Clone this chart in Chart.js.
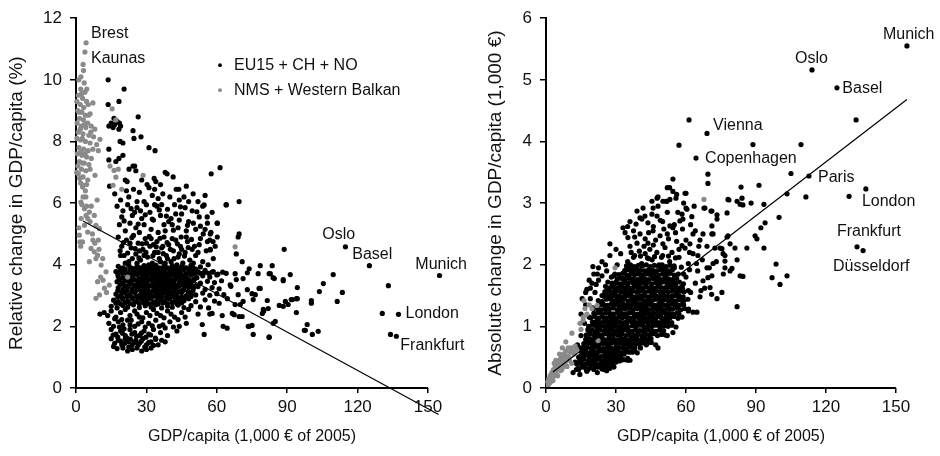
<!DOCTYPE html>
<html>
<head>
<meta charset="utf-8">
<script src="https://cdn.jsdelivr.net/npm/chart.js@4.4.1/dist/chart.umd.min.js"></script>
<style>
  body { margin: 0; background: #fff; }
  #wrap { position: relative; width: 940px; height: 456px; }
  canvas { position: absolute; top: 0; }
</style>
</head>
<body>
<div id="wrap">
  <canvas id="relativeChart" width="470" height="456" style="left:0"></canvas>
  <canvas id="absoluteChart" width="470" height="456" style="left:470px"></canvas>
</div>
<script>
// ---- data ----
const xTickValues = [0, 30, 60, 90, 120, 150];
const relYTickValues = [0, 2, 4, 6, 8, 10, 12];
const absYTickValues = [0, 1, 2, 3, 4, 5, 6];
const legendLabels = ['EU15 + CH + NO', 'NMS + Western Balkan'];
const xTitle = 'GDP/capita (1,000 € of 2005)';

// left panel: GDP/capita (x) vs relative change in GDP/capita (%)
const relEuPoints = [
  // upper arm
  [13.7,10.0],[20.5,9.7],[13.7,9.2],[18.3,9.3],[16.2,8.75],[15.0,8.6],[16.5,8.55],[17.5,8.65],[18.5,8.6],[19.0,8.5],[15.8,8.45],[26.5,8.8],[14.0,8.5],[18.3,8.4],[24.3,8.35],[18.8,8.0],[24.7,8.1],[27.7,8.15],[20.0,7.95],[31.1,7.8],[33.7,7.7],[14.0,7.75],[18.3,7.45],[20.0,7.55],[14.0,7.4],[17.0,7.35],[22.6,7.1],[24.3,7.2],[25.0,7.2],[21.0,6.75],[21.8,6.7],[38.0,7.0],[41.4,6.85],[38.8,6.95],[33.3,6.8],[34.0,6.7],[30.3,6.6],[31.1,6.5],[42.7,6.45],[43.8,6.45],[57.6,6.95],[61.4,7.15],[55.0,6.25],[49.9,6.3],[14.3,6.55],[16.5,6.3],[19.0,6.1],[46.0,6.2],[37.0,6.3],[27.0,6.35],[35.0,6.15],[29.0,6.05],[47.0,6.55],[24.5,6.45],[40.0,6.2],[52.0,6.05],[22.5,6.2],[32.5,6.25],
  [21.5,6.4],[26.0,6.05],[33.5,6.45],[44.0,6.1],[25.5,7.05],[28.0,6.75],[36.0,6.6],[48.0,6.05],
  // 5-6 band
  [17.5,5.9],[20.0,5.75],[22.0,5.95],[24.0,5.6],[26.0,5.85],[28.0,5.5],[30.0,5.95],[31.5,5.7],[33.0,5.45],[34.5,5.9],[36.0,5.6],[37.5,5.3],[39.0,5.8],[40.5,5.5],[42.0,5.95],[43.5,5.2],[45.0,5.65],[46.5,5.85],[48.0,5.4],[49.5,5.75],[51.0,5.15],[52.5,5.55],[54.0,5.9],[56.0,5.35],[57.5,5.05],[60.2,5.35],[64.0,5.95],[69.5,6.05],[55.9,5.55],[18.5,5.3],[21.0,5.1],[23.0,5.35],[25.5,5.2],[27.0,5.05],[29.0,5.3],[32.0,5.15],[35.0,5.05],[38.0,5.1],[41.0,5.3],[44.0,5.45],[47.0,5.1],[50.0,5.35],[19.5,5.55],[25.0,5.7],[36.5,5.95],[42.5,5.65],[53.0,5.25],[58.0,5.7],[27.5,5.75],[33.5,5.95],[39.5,5.4],
  [20.5,5.42],[23.5,5.82],[26.5,5.32],[29.5,5.62],[32.5,5.48],[35.5,5.78],[38.5,5.58],[41.5,5.12],[44.5,5.88],[47.5,5.28],[51.5,5.72],[55.0,5.15],
  // 4-5 band
  [18.0,4.9],[19.5,4.6],[20.5,4.3],[21.5,4.8],[22.5,4.1],[23.5,4.55],[24.5,4.95],[25.5,4.35],[26.5,4.7],[27.5,4.15],[28.5,4.5],[29.5,4.85],[30.5,4.25],[31.5,4.6],[32.5,4.05],[33.5,4.4],[34.5,4.75],[35.5,4.2],[36.5,4.55],[37.5,4.9],[38.5,4.3],[39.5,4.65],[40.5,4.1],[41.5,4.45],[42.5,4.8],[43.5,4.25],[44.5,4.6],[45.5,4.05],[46.5,4.4],[47.5,4.75],[48.5,4.15],[49.5,4.5],[51.0,4.3],[52.5,4.65],[54.0,4.1],[55.5,4.45],[57.0,4.8],[58.5,4.2],[54.2,5.0],[57.2,5.0],[60.2,4.9],[69.5,5.0],[69.1,4.9],[58.4,4.75],[56.0,4.75],[57.2,4.5],[59.3,4.6],[68.3,4.35],[70.8,4.1],[88.7,4.5],[56.3,4.0],[21.0,4.05],[23.0,4.7],[26.0,4.05],[29.0,4.3],[32.0,4.85],[35.0,4.4],[38.0,4.05],[41.0,4.85],[44.0,4.35],[47.0,4.9],[50.0,4.05],[53.0,4.85],[24.0,4.2],[31.0,4.0],[37.0,4.6],[43.0,4.0],[19.0,4.3],[27.0,4.45],[33.0,4.65],[39.0,4.2],[45.0,4.5],[30.0,4.7],[36.0,4.1],
  [18.8,4.45],[20.2,4.72],[22.0,4.38],[23.8,4.88],[25.2,4.52],[26.8,4.22],[28.2,4.68],[29.8,4.4],[31.2,4.92],[32.8,4.3],[34.2,4.58],[35.8,4.86],[37.2,4.36],[38.8,4.72],[40.2,4.5],[41.8,4.2],[43.2,4.68],[44.8,4.9],[46.2,4.28],[47.8,4.56],[49.2,4.82],[50.5,4.6],[52.0,4.4],
  // dense core
  [18.0,3.95],[20.0,3.9],[22.5,3.98],[24.0,3.88],[26.0,3.95],[27.5,3.9],[29.0,3.97],[31.0,3.86],[32.5,3.93],[34.0,3.99],[36.0,3.88],[37.5,3.95],[39.0,3.9],[41.0,3.97],[43.0,3.87],[45.0,3.94],[47.0,3.9],[49.0,3.98],[51.0,3.86],[53.0,3.93],
  [18.8,3.87],[21.0,3.86],[23.3,3.89],[25.0,3.86],[27.0,3.88],[28.5,3.87],[30.2,3.89],[32.0,3.85],[33.5,3.88],[35.2,3.9],[37.0,3.86],[38.5,3.89],[40.2,3.85],[42.0,3.88],[44.0,3.86],[46.0,3.9],[48.0,3.86],[50.0,3.89],
  [17.0,3.78],[19.0,3.82],[21.0,3.75],[23.0,3.8],[25.0,3.84],[27.0,3.76],[28.5,3.81],[30.0,3.78],[31.5,3.85],[33.0,3.74],[35.0,3.8],[36.5,3.77],[38.0,3.83],[40.0,3.76],[42.0,3.81],[44.0,3.78],[46.0,3.84],[48.0,3.75],[50.0,3.8],[52.0,3.77],[55.0,3.82],[58.0,3.76],
  [17.8,3.7],[19.8,3.72],[21.8,3.69],[23.8,3.73],[25.8,3.7],[27.8,3.72],[29.3,3.7],[30.8,3.73],[32.3,3.69],[33.8,3.72],[35.8,3.7],[37.3,3.72],[38.8,3.7],[40.8,3.73],[42.8,3.69],[44.8,3.72],[46.8,3.7],[48.8,3.72],[50.8,3.7],[53.0,3.72],
  [18.0,3.62],[20.0,3.58],[22.0,3.66],[24.0,3.6],[26.0,3.68],[28.0,3.57],[29.5,3.63],[31.0,3.69],[32.5,3.58],[34.0,3.64],[35.5,3.6],[37.0,3.67],[38.5,3.56],[40.0,3.62],[41.5,3.68],[43.0,3.59],[45.0,3.65],[47.0,3.6],[49.0,3.66],[51.5,3.58],[54.0,3.64],[57.0,3.6],[60.0,3.67],
  [18.5,3.53],[20.8,3.5],[22.8,3.55],[24.8,3.52],[26.8,3.54],[28.8,3.51],[30.3,3.55],[31.8,3.52],[33.3,3.54],[34.8,3.51],[36.3,3.55],[37.8,3.52],[39.3,3.54],[40.8,3.51],[42.3,3.55],[44.3,3.52],[46.3,3.54],[48.3,3.51],[50.5,3.54],
  [17.5,3.45],[19.5,3.4],[21.5,3.48],[23.5,3.43],[25.5,3.5],[27.0,3.41],[28.5,3.47],[30.0,3.44],[31.5,3.5],[33.0,3.39],[34.5,3.46],[36.0,3.42],[37.5,3.49],[39.0,3.4],[40.5,3.45],[42.0,3.5],[44.0,3.41],[46.0,3.47],[48.0,3.43],[50.0,3.49],[53.0,3.4],[56.0,3.46],[59.0,3.42],[62.0,3.48],
  [18.8,3.35],[20.8,3.32],[22.8,3.36],[24.8,3.33],[26.3,3.37],[28.0,3.33],[29.8,3.36],[31.2,3.32],[32.8,3.36],[34.2,3.33],[35.8,3.37],[37.2,3.33],[38.8,3.36],[40.2,3.32],[41.8,3.36],[43.2,3.33],[45.0,3.37],[47.0,3.33],[49.0,3.36],[51.0,3.32],
  [18.0,3.25],[20.0,3.2],[22.0,3.28],[24.0,3.22],[26.0,3.3],[27.5,3.21],[29.0,3.27],[30.5,3.23],[32.0,3.31],[33.5,3.2],[35.0,3.26],[36.5,3.22],[38.0,3.29],[39.5,3.21],[41.0,3.27],[42.5,3.24],[44.0,3.3],[46.0,3.21],[48.0,3.27],[50.0,3.23],[52.0,3.29],[55.0,3.2],[58.0,3.26],[61.0,3.22],
  [17.8,3.15],[19.8,3.12],[21.8,3.16],[23.8,3.13],[25.8,3.17],[27.8,3.13],[29.8,3.16],[31.2,3.12],[32.8,3.16],[34.2,3.13],[35.8,3.17],[37.2,3.13],[38.8,3.16],[40.2,3.12],[41.8,3.16],[43.8,3.13],[45.8,3.17],[47.8,3.13],[49.8,3.16],
  [17.0,3.05],[19.0,3.0],[21.0,3.08],[23.0,3.02],[25.0,3.1],[27.0,3.01],[28.5,3.07],[30.0,3.03],[31.5,3.1],[33.0,3.0],[34.5,3.06],[36.0,3.02],[37.5,3.09],[39.0,3.01],[41.0,3.07],[43.0,3.04],[45.0,3.1],[47.0,3.0],[49.0,3.06],[51.0,3.02],[54.0,3.08],[57.0,3.01],[60.0,3.06],[63.0,3.03],
  [17.8,2.95],[19.8,2.93],[21.8,2.97],[23.8,2.94],[25.8,2.97],[27.8,2.93],[29.2,2.96],[31.2,2.94],[32.8,2.97],[34.8,2.93],[36.8,2.96],[38.8,2.94],[40.8,2.97],[43.0,2.93],[45.0,2.96],[47.0,2.94],[49.0,2.97],
  [16.0,2.85],[18.0,2.8],[20.0,2.88],[22.0,2.82],[24.0,2.9],[26.0,2.81],[28.0,2.87],[30.0,2.83],[32.0,2.9],[34.0,2.8],[36.0,2.86],[38.0,2.82],[40.0,2.89],[42.0,2.81],[44.0,2.87],[46.0,2.83],[48.0,2.9],[51.0,2.8],[55.0,2.86],[59.0,2.82],
  [17.0,2.75],[19.0,2.73],[21.0,2.77],[23.0,2.74],[25.0,2.78],[27.0,2.73],[29.0,2.76],[31.0,2.74],[33.0,2.77],[35.0,2.73],[37.0,2.76],[39.0,2.74],[41.0,2.77],[43.0,2.73],[45.0,2.76],
  [15.0,2.65],[17.5,2.6],[20.0,2.68],[22.0,2.62],[24.5,2.7],[27.0,2.61],[29.5,2.67],[32.0,2.63],[34.0,2.7],[36.5,2.6],[39.0,2.66],[41.0,2.62],[43.5,2.69],[46.0,2.61],[49.0,2.67],[53.0,2.63],
  [23,3.55],[25,3.72],[27,3.35],[29,3.15],[31,3.52],[33,3.33],[35,3.7],[37,3.15],[39,3.55],[41,3.35],[43,3.72],[45,3.15],[47,3.52],[49,3.35],[30,2.95],[34,3.15],[38,3.35],[42,2.95],[26,2.95],[46,3.35],[28,3.68],[36,3.88],[44,3.55],
  // lower part
  [10.2,2.4],[12.0,2.45],[13.5,2.35],[15.0,2.5],[17.0,2.3],[19.0,2.45],[21.0,2.55],[23.0,2.35],[25.0,2.5],[27.0,2.3],[30.0,2.45],[33.0,2.55],[36.0,2.35],[39.0,2.5],[42.0,2.3],[45.0,2.45],[48.0,2.55],[52.0,2.4],
  [16.5,2.25],[19.5,2.22],[23.5,2.2],[26.0,2.4],[28.5,2.28],[31.5,2.35],[34.5,2.42],[37.5,2.28],[40.5,2.4],[43.5,2.22],[46.5,2.3],
  [14.0,2.1],[16.0,2.0],[18.0,2.15],[20.0,2.05],[22.0,2.2],[25.0,2.0],[28.0,2.15],[31.0,2.1],[34.0,2.2],[37.0,2.05],[40.0,2.15],[44.0,2.0],[47.0,2.1],
  [18.5,1.98],[20.5,1.92],[23.0,2.05],[26.5,2.08],[29.5,1.98],[32.5,2.02],[35.5,2.0],[38.0,1.95],[41.5,1.98],
  [15.0,1.9],[17.0,1.75],[19.0,1.85],[21.0,1.7],[23.0,1.9],[25.0,1.8],[27.0,1.7],[29.0,1.85],[31.0,1.75],[33.0,1.9],[36.0,1.8],[39.0,1.7],[43.0,1.85],
  [15.8,1.72],[17.8,1.65],[19.8,1.78],[21.8,1.62],[23.8,1.75],[25.8,1.68],[27.8,1.78],[29.8,1.65],[31.8,1.72],[33.8,1.62],
  [15.0,1.6],[16.5,1.45],[18.0,1.55],[19.5,1.4],[21.0,1.6],[22.5,1.5],[24.0,1.4],[25.5,1.55],[27.0,1.45],[28.5,1.6],[30.0,1.4],[32.0,1.5],[35.0,1.4],[38.0,1.5],
  [16.0,1.35],[17.5,1.28],[19.0,1.52],[20.8,1.45],[22.5,1.33],[23.2,1.58],[24.8,1.48],[26.5,1.4],[27.8,1.52],[29.3,1.33],[31.0,1.48],[33.0,1.38],[34.0,1.58],[36.5,1.55],
  [20.0,1.3],[22.0,1.2],[24.0,1.25],[26.0,1.3],[28.0,1.2],[30.0,1.25],[32.0,1.3],
  // spread to the right
  [54.6,5.94],[64.0,5.94],[60.2,5.35],[57.2,4.48],[73.8,3.87],[73.0,3.74],[78.5,3.97],[83.6,3.97],[82.8,3.71],[84.0,3.58],[77.6,3.71],[91.3,3.68],[88.3,3.48],[67.8,3.71],[68.3,3.52],[71.2,3.55],[65.7,3.35],[94.3,3.26],[103.7,3.13],[105.4,3.39],[73.0,3.19],[75.0,3.06],[78.0,3.23],[76.4,3.03],[69.1,3.03],[71.2,2.81],[70.0,2.71],[67.8,2.71],[75.5,2.87],[81.5,2.84],[81.9,2.58],[79.4,2.42],[80.0,2.5],[86.6,2.68],[89.2,2.81],[90.4,2.71],[92.2,2.87],[94.3,2.9],[93.9,2.45],[100.3,2.84],[100.3,2.75],[84.9,2.16],[84.0,2.1],[98.5,2.06],[97.7,1.87],[100.7,1.74],[103.2,1.84],[82.3,1.65],[75.5,1.74],[73.8,2.0],[75.0,2.03],[66.6,2.42],[67.4,2.38],[62.7,2.0],[64.4,1.94],[62.3,2.35],[58.0,2.42],[57.0,2.4],[54.6,1.74],[53.8,2.06],
  [54.5,3.74],[56.5,3.72],[58.5,3.78],[60.5,3.7],[62.5,3.76],[64.0,3.72],[66.0,3.3],[64.5,2.9],[61.0,2.75],[56.5,2.6],
  [114.8,4.58],[125.0,3.97],[154.9,3.65],[133.1,3.32],[130.5,2.42],[137.4,2.39],[134.0,1.74],[136.5,1.68],[109.6,3.68],[113.5,3.1],[111.3,2.81],[97.3,1.87],[93.9,2.9],[91.7,2.87],[88.3,2.65],[88.3,3.52],[84.5,3.55],[82.3,3.71],[78.5,3.23],[79.8,2.55],[82.3,1.65],[73.4,2.0],[70.8,2.32],[69.5,2.32]
];
const relNmsPoints = [
  [4.3,11.2],[3.8,10.9],[3.0,10.5],[3.2,10.3],[2.1,10.1],[1.2,10.0],[3.5,9.9],[2.0,9.7],[3.8,9.6],[1.0,9.5],[2.8,9.4],[4.5,9.3],[1.8,9.2],[3.3,9.1],[5.2,9.2],[7.2,9.25],[0.8,9.0],[2.5,8.95],[4.0,8.85],[6.0,8.9],[1.5,8.75],[3.2,8.7],[5.0,8.6],[2.2,8.5],[4.2,8.45],[6.5,8.5],[8.0,8.4],[1.0,8.3],[3.0,8.25],[5.5,8.2],[7.5,8.15],[10.2,8.07],[2.0,8.05],[4.0,8.0],[6.0,7.95],[8.8,7.9],[1.3,7.8],[3.3,7.75],[5.2,7.7],[7.2,7.75],[9.5,7.7],[2.5,7.55],[4.5,7.5],[6.5,7.45],[1.5,7.35],[3.5,7.3],[5.5,7.25],[2.3,7.1],[4.2,7.05],[1.0,6.95],[3.0,6.85],[8.1,6.9],[5.0,6.75],[2.0,6.65],[3.0,6.58],[9.0,6.1],[4.0,6.4],
  [0.5,8.6],[1.8,8.4],[3.6,8.55],[2.7,8.1],[0.6,7.6],[1.9,7.65],[3.9,7.6],[0.8,7.2],[2.8,7.3],[6.0,7.1],[1.6,6.8],[4.5,6.6],[6.3,8.3],[5.3,8.85],[2.4,9.55],[4.6,9.7],[0.4,9.3],[1.4,8.95],[0.4,8.1],[0.3,7.0],
  [15.4,9.06],[17.0,8.7],[18.0,7.1],[16.2,7.06],[17.0,6.84],[28.6,6.9],[15.8,6.58],[14.5,7.2],[19.5,6.45],
  [2.8,6.52],[2.1,6.03],[3.6,5.82],[5.7,5.71],[7.8,5.6],[1.4,4.96],[2.8,4.74],[5.0,5.06],[8.5,5.28],[10.0,5.17],[6.4,4.53],[8.5,4.2],[10.7,3.99],[12.8,3.77],[9.2,3.45],[12.1,3.24],[14.2,3.34],[10.0,3.02],[8.5,2.91],[7.8,4.42],[5.7,4.1],[9.2,4.31],[11.4,4.2],[3.6,5.28],[5.0,5.5],[1.7,4.74],[2.2,5.5],[4.2,6.2],[6.5,5.9],[9.5,4.8],
  [3.0,6.2],[4.5,5.9],[6.0,5.4],[7.0,5.0],[8.0,4.7],[9.8,4.5],[10.5,3.6],[11.5,3.5],[13.0,3.1],[7.2,4.8],[4.3,5.6],[2.5,5.95],[1.2,5.2],[2.0,4.6],
  [22.0,3.6],[67.8,4.58]
];
const relFitLine = [[3, 5.42], [154.5, -0.86]];
const relCityLabels = [
  ['Brest', 6.4, 11.49], ['Kaunas', 6.4, 10.68], ['Oslo', 104.9, 4.99], ['Basel', 117.7, 4.34],
  ['Munich', 144.6, 3.99], ['London', 140.4, 2.41], ['Frankfurt', 138.2, 1.39]
];

// right panel: GDP/capita (x) vs absolute change in GDP/capita (1,000 EUR)
const absEuPoints = [
  // bottom edge of the cloud
  [11.6,0.25],[13.0,0.3],[14.5,0.22],[16.0,0.35],[17.5,0.27],[19.0,0.4],[20.5,0.3],[22.0,0.25],[23.5,0.38],[25.0,0.3],[26.0,0.28],[27.5,0.42],[29.0,0.35],[30.5,0.5],[32.0,0.45],[33.5,0.55],[35.0,0.48],[36.0,0.45],[14.0,0.5],[16.7,0.56],[18.5,0.55],[21.0,0.5],[24.0,0.6],[28.0,0.58],[12.5,0.42],
  [13.8,0.32],[15.5,0.34],[17.2,0.31],[18.9,0.33],[20.6,0.32],[22.3,0.34],[24.0,0.31],[25.7,0.33],[27.4,0.32],[29.1,0.34],
  [13.2,0.39],[14.9,0.4],[16.6,0.38],[18.3,0.4],[20.0,0.39],[21.7,0.38],[23.4,0.4],[25.1,0.39],[26.8,0.38],[28.5,0.4],
  [14.5,0.45],[16.2,0.47],[17.9,0.44],[19.6,0.46],[21.3,0.45],[23.0,0.47],[24.7,0.44],[26.4,0.46],[28.1,0.45],[29.8,0.47],[31.5,0.44],[33.2,0.46],[34.9,0.45],
  [15.0,0.52],[16.7,0.53],[18.4,0.51],[20.1,0.53],[21.8,0.52],[23.5,0.51],[25.2,0.53],[26.9,0.52],[28.6,0.51],[30.3,0.53],[32.0,0.52],
  [15.3,0.58],[17.0,0.6],[18.7,0.57],[20.4,0.59],[22.1,0.58],[23.8,0.6],[25.5,0.57],[27.2,0.59],[28.9,0.58],[30.6,0.6],[32.3,0.57],[34.0,0.59],[35.7,0.58],[37.4,0.6],[39.1,0.57],
  [16.0,0.65],[17.7,0.66],[19.4,0.64],[21.1,0.66],[22.8,0.65],[24.5,0.64],[26.2,0.66],[27.9,0.65],[29.6,0.64],[31.3,0.66],[33.0,0.65],[34.7,0.64],[36.4,0.66],[38.1,0.65],
  [14.0,0.3],[15.5,0.45],[17.0,0.38],[18.0,0.3],[19.5,0.55],[21.0,0.38],[22.5,0.48],[24.0,0.35],[25.5,0.5],[27.0,0.4],[28.5,0.52],[30.0,0.42],[31.0,0.6],[33.0,0.65],[35.0,0.7],[37.0,0.58],[39.0,0.72],[41.0,0.78],[43.0,0.7],[45.0,0.8],[15.0,0.65],[17.5,0.8],[20.0,0.7],[22.0,0.82],[24.5,0.72],[27.0,0.85],[29.5,0.78],[32.0,0.85],[34.0,0.95],[36.5,0.82],
  [16.2,0.72],[17.9,0.74],[19.6,0.71],[21.3,0.73],[23.0,0.72],[24.7,0.74],[26.4,0.71],[28.1,0.73],[29.8,0.72],[31.5,0.74],[33.2,0.71],[34.9,0.73],[36.6,0.72],[38.3,0.74],[40.0,0.71],[41.7,0.73],[43.4,0.72],[45.1,0.74],
  [17.0,0.79],[18.7,0.8],[20.4,0.78],[22.1,0.8],[23.8,0.79],[25.5,0.78],[27.2,0.8],[28.9,0.79],[30.6,0.78],[32.3,0.8],[34.0,0.79],[35.7,0.78],[37.4,0.8],[39.1,0.79],[40.8,0.78],[42.5,0.8],[44.2,0.79],
  [13.5,0.7],[15.0,0.85],[16.5,0.65],[18.0,0.95],[19.5,0.75],[21.0,0.9],[22.5,0.68],[24.0,0.82],[25.5,0.98],[27.0,0.72],[28.5,0.88],[30.0,0.65],[31.5,0.95],[33.0,0.78],[34.5,0.62],[36.0,0.9],[37.5,0.72],[39.0,0.85],[40.5,0.65],[42.0,0.95],[43.5,0.78],[45.0,0.88],[47.0,0.7],[48.0,0.65],[50.0,0.92],[52.0,0.85],[54.4,0.9],[38.0,0.6],[26.0,0.62],
  [17.2,0.86],[18.9,0.88],[20.6,0.85],[22.3,0.87],[24.0,0.86],[25.7,0.88],[27.4,0.85],[29.1,0.87],[30.8,0.86],[32.5,0.88],[34.2,0.85],[35.9,0.87],[37.6,0.86],[39.3,0.88],[41.0,0.85],[42.7,0.87],[44.4,0.86],[46.1,0.88],[47.8,0.85],[49.5,0.87],[51.2,0.86],
  [18.1,0.93],[19.8,0.94],[21.5,0.92],[23.2,0.94],[24.9,0.93],[26.6,0.92],[28.3,0.94],[30.0,0.93],[31.7,0.92],[33.4,0.94],[35.1,0.93],[36.8,0.92],[38.5,0.94],[40.2,0.93],[41.9,0.92],[43.6,0.94],[45.3,0.93],[47.0,0.92],[48.7,0.94],[50.4,0.93],
  // dense core
  [26.5,0.95],[29.0,1.05],[32.0,0.98],[35.0,1.1],[38.0,1.0],[41.0,1.12],[44.0,1.0],[47.0,1.1],[50.5,1.02],
  [18.3,1.0],[20.0,1.02],[21.7,0.99],[23.4,1.01],[25.1,1.0],[26.8,1.02],[28.5,0.99],[30.2,1.01],[31.9,1.0],[33.6,1.02],[35.3,0.99],[37.0,1.01],[38.7,1.0],[40.4,1.02],[42.1,0.99],[43.8,1.01],[45.5,1.0],[47.2,1.02],[48.9,0.99],[50.6,1.01],[52.3,1.0],[54.0,1.02],[55.7,0.99],
  [19.9,1.07],[21.6,1.08],[23.3,1.06],[25.0,1.08],[26.7,1.07],[28.4,1.06],[30.1,1.08],[31.8,1.07],[33.5,1.06],[35.2,1.08],[36.9,1.07],[38.6,1.06],[40.3,1.08],[42.0,1.07],[43.7,1.06],[45.4,1.08],[47.1,1.07],[48.8,1.06],[50.5,1.08],[52.2,1.07],[53.9,1.06],
  [19.2,1.14],[20.9,1.16],[22.6,1.13],[24.3,1.15],[26.0,1.14],[27.7,1.16],[29.4,1.13],[31.1,1.15],[32.8,1.14],[34.5,1.16],[36.2,1.13],[37.9,1.15],[39.6,1.14],[41.3,1.16],[43.0,1.13],[44.7,1.15],[46.4,1.14],[48.1,1.16],[49.8,1.13],[51.5,1.15],[53.2,1.14],[54.9,1.16],[56.6,1.13],[58.3,1.15],
  [20.5,1.21],[22.2,1.22],[23.9,1.2],[25.6,1.22],[27.3,1.21],[29.0,1.2],[30.7,1.22],[32.4,1.21],[34.1,1.2],[35.8,1.22],[37.5,1.21],[39.2,1.2],[40.9,1.22],[42.6,1.21],[44.3,1.2],[46.0,1.22],[47.7,1.21],[49.4,1.2],[51.1,1.22],[52.8,1.21],[54.5,1.2],[56.2,1.22],
  [15.0,1.2],[16.5,1.05],[17.0,1.35],[18.5,1.15],[20.0,1.3],[21.5,1.05],[22.5,1.25],[24.0,1.4],[25.0,1.1],[26.5,1.3],[27.5,1.0],[28.5,1.2],[29.5,1.38],[30.5,1.08],[31.5,1.28],[32.5,1.15],[33.5,1.35],[34.5,1.02],[35.5,1.22],[36.5,1.4],[37.5,1.1],[38.5,1.3],[39.5,1.18],[40.5,1.36],[41.5,1.05],[42.5,1.25],[43.5,1.12],[44.5,1.38],[45.5,1.2],[46.5,1.05],[47.5,1.32],[49.0,1.15],[50.5,1.35],[52.0,1.1],[53.5,1.28],[55.0,1.38],[57.0,1.2],[59.0,1.35],[61.0,1.25],[64.7,1.23],[28.0,1.12],[31.0,1.22],[34.0,1.3],[37.0,1.08],[40.0,1.2],[43.0,1.3],[46.0,1.15],[49.5,1.25],
  [20.3,1.28],[22.0,1.3],[23.7,1.27],[25.4,1.29],[27.1,1.28],[28.8,1.3],[30.5,1.27],[32.2,1.29],[33.9,1.28],[35.6,1.3],[37.3,1.27],[39.0,1.29],[40.7,1.28],[42.4,1.3],[44.1,1.27],[45.8,1.29],[47.5,1.28],[49.2,1.3],[50.9,1.27],[52.6,1.29],[54.3,1.28],[56.0,1.3],[57.7,1.27],[59.4,1.29],[61.1,1.28],
  [22.8,1.35],[24.5,1.36],[26.2,1.34],[27.9,1.36],[29.6,1.35],[31.3,1.34],[33.0,1.36],[34.7,1.35],[36.4,1.34],[38.1,1.36],[39.8,1.35],[41.5,1.34],[43.2,1.36],[44.9,1.35],[46.6,1.34],[48.3,1.36],[50.0,1.35],[51.7,1.34],[53.4,1.36],[55.1,1.35],[56.8,1.34],[58.5,1.36],
  [22.4,1.42],[25.8,1.44],[28.5,1.41],[30.2,1.43],[31.9,1.42],[33.6,1.44],[35.3,1.41],[37.0,1.43],[38.7,1.42],[40.4,1.44],[42.1,1.41],[43.8,1.43],[45.5,1.42],[47.2,1.44],[48.9,1.41],[50.6,1.43],[52.3,1.42],[54.0,1.44],[55.7,1.41],[57.4,1.43],[59.1,1.42],[60.8,1.44],
  [24.8,1.49],[26.5,1.5],[28.2,1.48],[29.9,1.5],[31.6,1.49],[33.3,1.48],[35.0,1.5],[36.7,1.49],[38.4,1.48],[40.1,1.5],[41.8,1.49],[43.5,1.48],[45.2,1.5],[46.9,1.49],[48.6,1.48],[50.3,1.5],[52.0,1.49],[53.7,1.48],[55.4,1.5],[57.1,1.49],[58.8,1.48],
  [24.5,1.35],[27.5,1.5],[30.5,1.38],[33.0,1.45],[36.0,1.52],[38.5,1.4],[41.0,1.48],[44.0,1.38],[47.0,1.45],[50.0,1.52],[53.0,1.4],[56.0,1.55],
  [25.2,1.56],[26.9,1.58],[28.6,1.55],[30.3,1.57],[32.0,1.56],[33.7,1.58],[35.4,1.55],[37.1,1.57],[38.8,1.56],[40.5,1.58],[42.2,1.55],[43.9,1.57],[45.6,1.56],[47.3,1.58],[49.0,1.55],[50.7,1.57],[52.4,1.56],[54.1,1.58],[55.8,1.55],[57.5,1.57],[59.2,1.56],[61.0,1.58],
  [27.5,1.63],[29.2,1.64],[30.9,1.62],[32.6,1.64],[34.3,1.63],[36.0,1.62],[37.7,1.64],[39.4,1.63],[41.1,1.62],[42.8,1.64],[44.5,1.63],[46.2,1.62],[47.9,1.64],[49.6,1.63],[51.3,1.62],[53.0,1.64],[54.7,1.63],[56.4,1.62],[58.1,1.64],
  [17.5,1.6],[19.0,1.45],[19.7,1.7],[21.0,1.55],[22.5,1.75],[24.0,1.5],[25.5,1.65],[27.0,1.45],[28.0,1.8],[29.0,1.55],[30.0,1.7],[31.0,1.45],[32.0,1.62],[33.0,1.78],[34.0,1.5],[35.0,1.68],[36.0,1.42],[37.0,1.58],[38.0,1.75],[39.0,1.48],[40.0,1.65],[41.0,1.8],[42.0,1.52],[43.0,1.7],[44.0,1.45],[45.0,1.6],[46.0,1.78],[47.0,1.5],[48.0,1.68],[49.5,1.42],[51.0,1.6],[52.5,1.75],[54.0,1.5],[55.5,1.68],[57.0,1.45],[58.5,1.62],[60.0,1.8],[62.0,1.55],[64.0,1.7],[66.0,1.48],[68.0,1.62],[71.0,1.52],[29.5,1.62],[33.5,1.55],[37.5,1.7],[41.5,1.6],[45.5,1.52],[26.0,1.58],[39.5,1.58],
  [28.3,1.7],[30.0,1.72],[31.7,1.69],[33.4,1.71],[35.1,1.7],[36.8,1.72],[38.5,1.69],[40.2,1.71],[41.9,1.7],[43.6,1.72],[45.3,1.69],[47.0,1.71],[48.7,1.7],[50.4,1.72],[52.1,1.69],[53.8,1.71],[55.5,1.7],[57.2,1.72],[58.9,1.69],
  [26.5,1.72],[29.5,1.85],[32.5,1.68],[35.5,1.82],[38.5,1.65],[41.5,1.75],[44.5,1.85],[47.5,1.72],[50.5,1.85],[53.5,1.65],
  [30.5,1.77],[32.2,1.78],[33.9,1.76],[35.6,1.78],[37.3,1.77],[39.0,1.76],[40.7,1.78],[42.4,1.77],[44.1,1.76],[45.8,1.78],[47.5,1.77],[49.2,1.76],[50.9,1.78],[52.6,1.77],[54.3,1.76],[56.0,1.78],
  [31.2,1.84],[32.9,1.86],[34.6,1.83],[36.3,1.85],[38.0,1.84],[39.7,1.86],[41.4,1.83],[43.1,1.85],[44.8,1.84],[46.5,1.86],[48.2,1.83],[49.9,1.85],[51.6,1.84],[53.3,1.86],[55.0,1.83],[56.7,1.85],
  [33.8,1.91],[35.5,1.92],[37.2,1.9],[38.9,1.92],[40.6,1.91],[42.3,1.9],[44.0,1.92],[45.7,1.91],[47.4,1.9],[49.1,1.92],[50.8,1.91],[52.5,1.9],[54.2,1.92],
  [34.5,1.98],[36.2,2.0],[37.9,1.97],[39.6,1.99],[41.3,1.98],[43.0,2.0],[44.7,1.97],[46.4,1.99],[48.1,1.98],[49.8,2.0],[51.5,1.97],[53.2,1.99],[54.9,1.98],
  [37.5,2.12],[40.5,2.14],[43.5,2.11],[46.5,2.13],[49.5,2.12],[52.5,2.14],[55.5,2.11],
  [15.5,1.45],[17.0,1.55],[18.5,1.75],[20.5,1.85],[22.5,1.95],[24.0,1.82],[25.5,2.0],[19.0,1.62],[21.5,1.68],
  // upper part of the cloud
  [20.1,1.97],[22.0,1.85],[24.0,2.05],[26.0,1.9],[27.4,2.15],[29.0,1.82],[30.5,2.0],[32.0,2.18],[33.5,1.88],[35.0,2.05],[36.5,1.95],[38.0,2.15],[39.5,1.85],[41.0,2.02],[42.5,2.18],[44.0,1.9],[45.5,2.08],[47.0,1.82],[48.5,2.0],[50.0,2.15],[51.5,1.88],[53.0,2.05],[55.0,1.95],[57.0,2.12],[59.0,1.85],[61.0,2.02],[63.0,2.18],[65.0,1.9],[67.0,2.08],[70.0,1.95],[73.0,2.05],[76.0,1.85],[78.9,1.9],[83.2,1.82],[65.1,2.15],[38.0,1.92],[44.0,2.1],[50.0,1.95],
  [40.0,2.22],[42.5,2.42],[44.5,2.25],[46.0,2.62],[47.5,2.2],[49.0,2.72],[51.0,2.28],[52.5,2.42],[54.0,2.2],[55.5,2.52],[57.0,2.25],[58.5,2.58],[60.0,2.4],[61.5,2.2],[62.5,2.78],[64.0,2.55],[65.5,2.3],[64.5,2.02],[61.5,1.92],[58.0,1.96],[46.0,2.32],[50.5,2.58],[56.5,2.85],[44.0,2.52],[39.0,2.35],[36.5,2.2],[59.0,3.0],[63.5,2.95],
  [27.4,2.34],[30.0,2.25],[33.9,2.52],[35.1,2.44],[36.0,2.3],[38.0,2.45],[40.3,2.5],[42.0,2.3],[43.7,2.35],[45.9,2.55],[47.0,2.4],[48.9,2.47],[50.1,2.34],[52.0,2.5],[53.1,2.63],[54.4,2.6],[56.0,2.38],[58.3,2.31],[59.6,2.27],[61.7,2.34],[63.0,2.5],[66.0,2.4],[69.0,2.3],[71.1,2.5],[72.4,2.27],[74.6,2.27],[75.4,2.26],[75.9,2.18],[77.6,2.45],[78.0,2.47],[81.0,2.27],[86.1,2.27],[89.6,2.47],[90.4,2.42],[93.4,2.27],[67.3,2.5],[71.6,2.5],
  [33.0,2.6],[36.0,2.7],[38.6,2.66],[40.3,2.76],[41.1,2.74],[42.4,2.79],[43.7,2.68],[45.4,2.82],[45.9,2.92],[47.6,2.79],[48.0,2.95],[50.0,2.7],[52.0,2.85],[57.4,2.71],[58.3,2.82],[58.7,2.74],[60.4,2.9],[67.7,2.92],[68.1,2.92],[70.7,2.87],[71.1,2.87],[71.1,2.63],[73.3,2.81],[73.3,2.74],[77.6,2.84],[83.2,2.98],[84.4,2.97],[87.9,3.0],[92.1,2.6],[93.4,2.98],[93.9,2.68],[99.9,2.77],[55.0,2.65],[62.0,2.65],
  [35.0,2.62],[37.5,2.55],[39.0,2.87],[41.6,2.92],[45.4,3.03],[47.6,3.08],[51.4,3.03],[53.0,3.25],[56.0,3.14],[59.6,3.16],[60.0,2.92],
  [50.1,3.03],[51.9,3.03],[53.1,3.06],[54.4,3.19],[54.4,3.39],[55.7,3.08],[60.0,3.16],[78.0,3.06],[78.4,3.05],[81.9,3.03],[84.0,3.08],[83.6,3.26],[91.3,3.29],[69.4,3.47],[69.4,3.32],[103.3,3.15],[105.0,3.48],[111.4,3.1],[112.7,3.44],[129.9,3.11],[137.1,3.23],[48.0,3.1],[52.0,3.25],
  [57.0,3.94],[61.3,4.35],[64.3,3.73],[69.0,4.13],[88.7,3.95],[109.3,3.95],[132.9,4.35],
  [114.0,5.16],[124.7,4.87],[154.7,5.55],[133.3,2.29],[135.9,2.23],
  [96.9,1.79],[100.3,1.68],[103.3,1.82],[98.6,2.01],[84.4,1.81],[79.7,1.94],[76.7,1.95],[76.7,2.15],[81.9,2.08],[69.0,1.95],[71.1,1.82],
  [75.4,1.55],[73.3,1.45],[81.9,1.32],[63.0,1.23],[67.3,1.74],[71.6,2.02],[78.9,2.34],[76.7,2.06],[69.4,1.79],[66.4,1.58],[70.3,1.63]
];
const absNmsPoints = [
  [0.8,0.1],[1.2,0.15],[1.5,0.08],[1.8,0.2],[2.2,0.12],[2.5,0.25],[2.8,0.18],[3.2,0.3],[3.5,0.22],[4.0,0.35],[4.3,0.28],[4.8,0.4],[5.2,0.32],[5.6,0.45],[6.0,0.38],[6.5,0.5],[7.0,0.42],[7.5,0.55],[8.0,0.48],[8.5,0.6],[9.0,0.52],[9.5,0.65],[10.0,0.45],[10.5,0.58],[11.0,0.4],[6.8,0.3],[5.0,0.2],[3.0,0.12],[7.5,0.35],[9.0,0.35],[12.0,0.55],
  [1.0,0.05],[2.0,0.1],[3.8,0.25],[4.5,0.2],[5.5,0.35],[6.2,0.28],[7.2,0.5],[8.2,0.4],[9.8,0.5],[10.8,0.65],[11.5,0.6],[12.5,0.68],[13.0,0.62],[5.8,0.55],[4.2,0.45],[3.5,0.4],
  [11.1,0.89],[8.5,0.75],[7.0,0.65],[14.6,1.05],[15.9,1.1],[16.7,1.29],[19.7,1.29],[21.9,1.34],[17.5,1.2],[18.5,1.35],[16.0,1.15],[15.0,0.95],[16.3,1.42],[22.3,0.77],[29.6,1.95],[67.7,3.06]
];
const absFitLine = [[3, 0.26], [154.7, 4.68]];
const absCityLabels = [
  ['Munich', 144.4, 5.74], ['Oslo', 106.7, 5.34], ['Basel', 127.0, 4.85], ['Vienna', 71.6, 4.26],
  ['Copenhagen', 68.2, 3.73], ['Paris', 116.6, 3.42], ['London', 135.4, 3.02],
  ['Frankfurt', 124.7, 2.53], ['Düsseldorf', 123.0, 1.97]
];

// ---- drawing ----
const FONT = '"Liberation Sans", Arial, Helvetica, sans-serif';
const EU_COLOR = '#000000';
const NMS_COLOR = '#8a8a8a';
const AXIS_END = 150;   // the drawn x axis stops here, the scale runs a bit further for Munich

function toXY(list) {
    return list.map(function (p) { return { x: p[0], y: p[1] }; });
}

const labelPlugin = {
    id: 'cityLabels',
    afterDatasetsDraw(chart, args, opts) {
        const ctx = chart.ctx;
        const xs = chart.scales.x;
        const ys = chart.scales.y;
        const area = chart.chartArea;
        ctx.save();

        // x axis line, 0..150 only
        ctx.strokeStyle = '#000';
        ctx.lineWidth = 2;
        ctx.beginPath();
        ctx.moveTo(xs.getPixelForValue(0) - 1, area.bottom);
        ctx.lineTo(xs.getPixelForValue(AXIS_END), area.bottom);
        ctx.stroke();

        // x axis title, centred under the drawn axis
        ctx.fillStyle = '#111';
        ctx.font = '16px ' + FONT;
        ctx.textAlign = 'center';
        ctx.textBaseline = 'middle';
        ctx.fillText(xTitle, (xs.getPixelForValue(0) + xs.getPixelForValue(AXIS_END)) / 2, area.bottom + 49);

        ctx.textAlign = 'left';
        (opts.labels || []).forEach(function (l) {
            ctx.fillText(l[0], xs.getPixelForValue(l[1]), ys.getPixelForValue(l[2]));
        });
        if (opts.showLegend) {
            const left = area.left + 144;
            const top = area.top + 47;
            [EU_COLOR, NMS_COLOR].forEach(function (color, i) {
                const cy = top + i * 25;
                ctx.fillStyle = color;
                ctx.beginPath();
                ctx.arc(left, cy, 1.9, 0, Math.PI * 2);
                ctx.fill();
                ctx.fillStyle = '#111';
                ctx.fillText(legendLabels[i], left + 14, cy);
            });
        }
        ctx.restore();
    }
};

function makeChart(id, cfg) {
    const canvas = document.getElementById(id);
    return new Chart(canvas.getContext('2d'), {
        type: 'scatter',
        data: {
            datasets: [
                {
                    data: toXY(cfg.fit),
                    showLine: true,
                    borderColor: '#000',
                    borderWidth: 1.2,
                    pointRadius: 0,
                    clip: false
                },
                {
                    data: toXY(cfg.nms),
                    backgroundColor: NMS_COLOR,
                    borderWidth: 0,
                    pointRadius: 2.6,
                    clip: false
                },
                {
                    data: toXY(cfg.eu),
                    backgroundColor: EU_COLOR,
                    borderWidth: 0,
                    pointRadius: 2.6,
                    clip: false
                }
            ]
        },
        options: {
            responsive: false,
            animation: false,
            events: [],
            devicePixelRatio: 1,
            layout: { padding: { top: cfg.padTop, right: cfg.padRight, left: 0, bottom: 0 } },
            scales: {
                x: {
                    type: 'linear',
                    min: 0,
                    max: 160,
                    afterBuildTicks: function (s) { s.ticks = xTickValues.map(function (v) { return { value: v }; }); },
                    afterFit: function (s) { s.height = 68; },
                    grid: { drawOnChartArea: false, drawTicks: true, tickLength: 5, color: '#000', lineWidth: 1.5 },
                    border: { display: false },
                    ticks: { color: '#111', font: { family: FONT, size: 17 }, padding: 4, maxRotation: 0 }
                },
                y: {
                    type: 'linear',
                    min: 0,
                    max: cfg.yMax,
                    afterBuildTicks: function (s) { s.ticks = cfg.yTicks.map(function (v) { return { value: v }; }); },
                    afterFit: function (s) { s.width = 76; },
                    grid: { drawOnChartArea: false, drawTicks: true, tickLength: 6, color: '#000', lineWidth: 1.5 },
                    border: { color: '#000', width: 2 },
                    ticks: { color: '#111', font: { family: FONT, size: 17 }, padding: 8 },
                    title: {
                        display: true,
                        text: cfg.yTitle,
                        color: '#111',
                        font: { family: FONT, size: 19 },
                        padding: { top: cfg.yTitlePad, bottom: 4 }
                    }
                }
            },
            plugins: {
                legend: { display: false },
                tooltip: { enabled: false },
                cityLabels: { labels: cfg.labels, showLegend: cfg.showLegend }
            }
        },
        plugins: [labelPlugin]
    });
}

makeChart('relativeChart', {
    eu: relEuPoints,
    nms: relNmsPoints,
    fit: relFitLine,
    labels: relCityLabels,
    showLegend: true,
    yMax: 12,
    yTicks: relYTickValues,
    yTitle: 'Relative change in GDP/capita (%)',
    yTitlePad: 5,
    padTop: 15,
    padRight: 18.5
});

makeChart('absoluteChart', {
    eu: absEuPoints,
    nms: absNmsPoints,
    fit: absFitLine,
    labels: absCityLabels,
    showLegend: false,
    yMax: 6,
    yTicks: absYTickValues,
    yTitle: 'Absolute change in GDP/capita (1,000 €)',
    yTitlePad: 14,
    padTop: 16,
    padRight: 20.7
});
</script>
</body>
</html>
